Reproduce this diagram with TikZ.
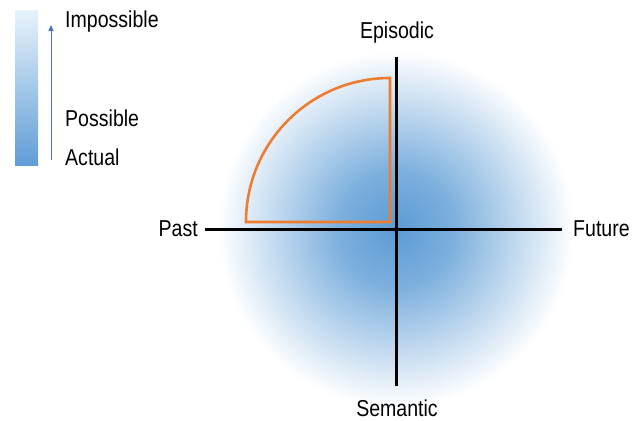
\documentclass[tikz,border=0pt]{standalone}
\usepackage{fontspec}
\setmainfont{Liberation Sans}[FakeStretch=0.85]
\usetikzlibrary{arrows.meta}
\definecolor{glowblue}{RGB}{91,155,213}
\definecolor{barbottom}{RGB}{96,157,214}
\definecolor{bartop}{RGB}{232,243,251}
\definecolor{arrowblue}{RGB}{74,114,190}
\definecolor{quadorange}{RGB}{237,125,49}
\pgfdeclareradialshading{glow}{\pgfpoint{0bp}{0bp}}{color(0bp)=(glowblue); color(4bp)=(glowblue!80!white); color(9bp)=(glowblue!33!white); color(12.5bp)=(white); color(50bp)=(white)}
\tikzset{
  lbl/.style={font=\fontsize{23}{27}\selectfont, inner sep=0pt, text=black},
  axis/.style={line width=3pt, black},
  quad/.style={line width=2.6pt, quadorange, line join=miter}
}
\begin{document}
\begin{tikzpicture}[x=1pt,y=-1pt]
\useasboundingbox (0,0) rectangle (641,421);
% radial glow (square larger than the page, so no visible edge)
\shade[shading=glow] (40,-127) rectangle (752,585);
% legend bar
\shade[top color=bartop, bottom color=barbottom] (15,10) rectangle (38,165);
\coordinate (arrS) at (51,160);
\coordinate (arrE) at (51,25);
\draw[arrowblue, line width=1pt, -{Triangle[length=6pt,width=5pt]}] (arrS) -- (arrE);
\node[lbl, anchor=west] (imp) at (65,22) {Impossible};
\node[lbl, anchor=west] (pos) at (65,118) {Possible};
\node[lbl, anchor=west] (act) at (65,157) {Actual};
% quadrant
\draw[quad] (390,222) -- (246,222) arc[start angle=180, end angle=270, radius=144] -- cycle;
% axes
\node[lbl, anchor=east] (past) at (198,229) {Past};
\node[lbl, anchor=west] (future) at (573,229) {Future};
\node[lbl] (epi) at (397,33) {Episodic};
\node[lbl] (sem) at (397,408) {Semantic};
\coordinate (L) at (205,229);
\coordinate (R) at (562,229);
\coordinate (T) at (396,57);
\coordinate (B) at (396,386);
\draw[axis] (L) -- (R);
\draw[axis] (T) -- (B);
\end{tikzpicture}
\end{document}
